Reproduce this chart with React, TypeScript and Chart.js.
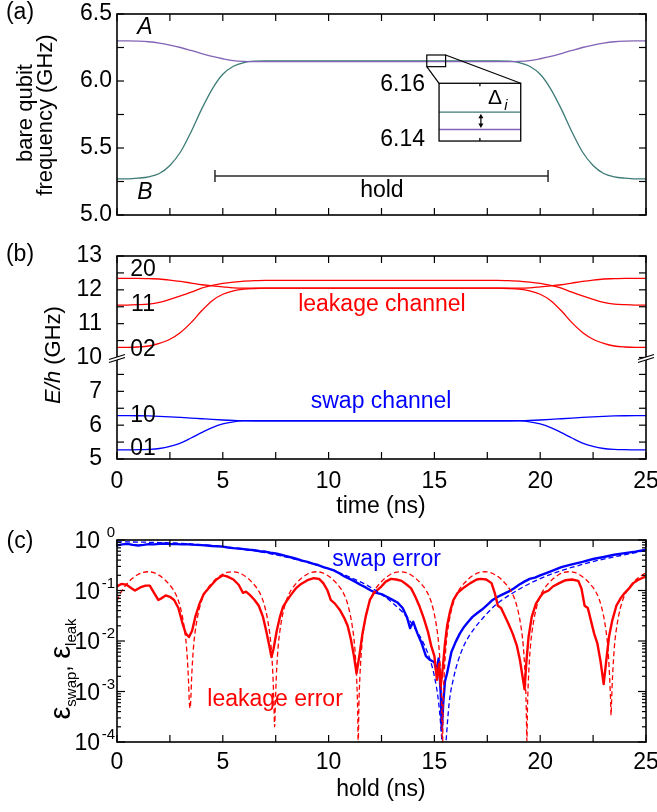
import React, { useEffect, useRef } from "react";
import { Chart, registerables } from "chart.js";

Chart.register(...registerables);

const FONT = '"Liberation Sans", Arial, Helvetica, sans-serif';
const FS = 23;

// ---------- panels (a) and (b): pulse time axis (ns) ----------
const TIME_NS = [0, 0.5, 1, 1.5, 2, 2.5, 3, 3.5, 4, 4.5, 5, 5.5, 6, 6.5, 7, 12.5, 18, 18.5, 19, 19.5, 20, 20.5, 21, 21.5, 22, 22.5, 23, 23.5, 24, 24.5, 25];

// (a) bare qubit frequencies (GHz)
const QUBIT_A_GHZ = [6.300, 6.300, 6.298, 6.293, 6.283, 6.268, 6.250, 6.228, 6.205, 6.183, 6.166, 6.152, 6.146, 6.144, 6.144, 6.144, 6.144, 6.144, 6.146, 6.152, 6.166, 6.183, 6.205, 6.228, 6.250, 6.268, 6.283, 6.293, 6.298, 6.300, 6.300];
const QUBIT_B_GHZ = [5.270, 5.270, 5.275, 5.285, 5.310, 5.370, 5.470, 5.620, 5.790, 5.940, 6.050, 6.110, 6.138, 6.148, 6.150, 6.150, 6.150, 6.148, 6.138, 6.110, 6.050, 5.940, 5.790, 5.620, 5.470, 5.370, 5.310, 5.285, 5.275, 5.270, 5.270];

// (b) two-qubit energy levels E/h (GHz)
const LEVEL_10 = [6.28, 6.28, 6.278, 6.272, 6.262, 6.248, 6.230, 6.210, 6.190, 6.170, 6.153, 6.140, 6.133, 6.130, 6.130, 6.130, 6.130, 6.130, 6.133, 6.140, 6.153, 6.170, 6.190, 6.210, 6.230, 6.248, 6.262, 6.272, 6.278, 6.28, 6.28];
const LEVEL_01 = [5.27, 5.27, 5.275, 5.285, 5.31, 5.37, 5.47, 5.62, 5.78, 5.93, 6.04, 6.10, 6.125, 6.130, 6.130, 6.130, 6.130, 6.130, 6.125, 6.10, 6.04, 5.93, 5.78, 5.62, 5.47, 5.37, 5.31, 5.285, 5.275, 5.27, 5.27];
const LEVEL_02 = [10.30, 10.30, 10.31, 10.34, 10.42, 10.54, 10.74, 11.03, 11.38, 11.68, 11.87, 11.97, 12.02, 12.04, 12.05, 12.05, 12.05, 12.04, 12.02, 11.97, 11.87, 11.68, 11.38, 11.03, 10.74, 10.54, 10.42, 10.34, 10.31, 10.30, 10.30];
const LEVEL_11 = [11.55, 11.55, 11.56, 11.58, 11.63, 11.72, 11.82, 11.93, 12.05, 12.13, 12.19, 12.23, 12.26, 12.27, 12.28, 12.28, 12.28, 12.27, 12.26, 12.23, 12.19, 12.13, 12.05, 11.93, 11.82, 11.72, 11.63, 11.58, 11.56, 11.55, 11.55];
const LEVEL_20 = [12.34, 12.34, 12.34, 12.33, 12.32, 12.29, 12.25, 12.20, 12.15, 12.12, 12.09, 12.06, 12.05, 12.05, 12.05, 12.05, 12.05, 12.05, 12.05, 12.06, 12.09, 12.12, 12.15, 12.20, 12.25, 12.29, 12.32, 12.33, 12.34, 12.34, 12.34];

// ---------- panel (c): errors vs hold time, [hold (ns), error] ----------
const SWAP_MEASURED = [
  [0, 0.78], [0.25, 0.82], [0.5, 0.84], [0.75, 0.80], [1, 0.78], [1.25, 0.80], [1.5, 0.83], [1.75, 0.82], [2, 0.84], [2.25, 0.85],
  [2.5, 0.83], [2.75, 0.84], [3, 0.82], [3.25, 0.83], [3.5, 0.81], [3.75, 0.80], [4, 0.79], [4.25, 0.78], [4.5, 0.76], [4.75, 0.75],
  [5, 0.74], [5.25, 0.71], [5.5, 0.69], [5.75, 0.68], [6, 0.66], [6.25, 0.64], [6.5, 0.63], [6.75, 0.60], [7, 0.59], [7.25, 0.56],
  [7.5, 0.54], [7.75, 0.51], [8, 0.48], [8.25, 0.45], [8.5, 0.42], [8.75, 0.39], [9, 0.37], [9.25, 0.34], [9.5, 0.32], [9.75, 0.29],
  [10, 0.27], [10.25, 0.25], [10.5, 0.22], [10.75, 0.19], [11, 0.17], [11.25, 0.15], [11.5, 0.13], [11.75, 0.115], [12, 0.10], [12.25, 0.09],
  [12.5, 0.085], [12.75, 0.075], [13, 0.066], [13.25, 0.058], [13.5, 0.045], [13.7, 0.030], [13.85, 0.018], [14, 0.024], [14.2, 0.014], [14.4, 0.009],
  [14.6, 0.0050], [14.8, 0.0042], [15, 0.0038], [15.1, 0.0025], [15.2, 0.0045], [15.3, 0.0009], [15.35, 0.00017], [15.42, 0.0006], [15.5, 0.0016], [15.6, 0.0023],
  [15.8, 0.0060], [16, 0.0095], [16.2, 0.014], [16.4, 0.019], [16.6, 0.024], [16.8, 0.030], [17, 0.035], [17.25, 0.042], [17.5, 0.052], [17.75, 0.065],
  [18, 0.075], [18.25, 0.085], [18.5, 0.095], [18.75, 0.11], [19, 0.13], [19.25, 0.15], [19.5, 0.17], [19.75, 0.18], [20, 0.20], [20.5, 0.24],
  [21, 0.29], [21.5, 0.33], [22, 0.37], [22.5, 0.42], [23, 0.46], [23.5, 0.51], [24, 0.55], [24.5, 0.59], [25, 0.64],
];
const SWAP_THEORY = [
  [0, 0.92], [1, 0.91], [2, 0.89], [3, 0.86], [4, 0.81], [5, 0.74], [6, 0.65], [7, 0.56], [8, 0.46], [9, 0.36],
  [10, 0.27], [11, 0.185], [12, 0.115], [13, 0.058], [13.5, 0.037], [14, 0.020], [14.5, 0.0088], [14.8, 0.0042], [15, 0.002], [15.2, 0.0006],
  [15.35, 0.00011], [15.45, 0.00002], [15.55, 0.0001], [15.7, 0.0006], [15.9, 0.0018], [16.1, 0.0038], [16.4, 0.0082], [16.9, 0.018], [17.4, 0.032], [17.9, 0.052],
  [18.9, 0.10], [19.9, 0.165], [20.9, 0.24], [21.9, 0.32], [22.9, 0.41], [23.9, 0.50], [25, 0.62],
];
const LEAK_MEASURED = [
  [0, 0.12], [0.2, 0.135], [0.45, 0.13], [0.7, 0.11], [0.85, 0.10], [1.1, 0.115], [1.35, 0.125], [1.55, 0.125], [1.75, 0.09], [1.95, 0.065],
  [2.1, 0.07], [2.3, 0.08], [2.5, 0.075], [2.7, 0.065], [2.9, 0.045], [3.1, 0.022], [3.25, 0.014], [3.4, 0.012], [3.55, 0.016], [3.7, 0.03],
  [3.9, 0.055], [4.1, 0.085], [4.4, 0.12], [4.7, 0.165], [5.0, 0.2], [5.2, 0.19], [5.5, 0.165], [5.75, 0.13], [5.95, 0.09], [6.1, 0.095],
  [6.3, 0.08], [6.5, 0.065], [6.7, 0.05], [6.9, 0.03], [7.05, 0.016], [7.2, 0.008], [7.3, 0.0048], [7.4, 0.007], [7.55, 0.016], [7.7, 0.03],
  [7.85, 0.048], [8.0, 0.06], [8.2, 0.08], [8.45, 0.11], [8.7, 0.135], [9.0, 0.16], [9.3, 0.175], [9.55, 0.17], [9.75, 0.14], [9.95, 0.10],
  [10.1, 0.065], [10.3, 0.055], [10.55, 0.04], [10.75, 0.028], [10.9, 0.02], [11.05, 0.011], [11.2, 0.005], [11.32, 0.0023], [11.45, 0.005], [11.6, 0.014],
  [11.75, 0.03], [11.95, 0.065], [12.15, 0.09], [12.45, 0.115], [12.7, 0.15], [12.95, 0.17], [13.2, 0.165], [13.45, 0.155], [13.7, 0.13], [13.9, 0.11],
  [14.1, 0.075], [14.3, 0.048], [14.5, 0.028], [14.7, 0.015], [14.85, 0.008], [15.0, 0.005], [15.12, 0.0017], [15.22, 0.0035], [15.3, 0.0013], [15.4, 0.003],
  [15.5, 0.009], [15.6, 0.02], [15.75, 0.04], [15.9, 0.065], [16.1, 0.09], [16.4, 0.115], [16.7, 0.14], [17.0, 0.165], [17.2, 0.17], [17.45, 0.165],
  [17.7, 0.14], [17.85, 0.09], [18.0, 0.05], [18.15, 0.045], [18.3, 0.033], [18.5, 0.022], [18.7, 0.014], [18.9, 0.008], [19.05, 0.004], [19.2, 0.0016],
  [19.26, 0.0011], [19.35, 0.004], [19.45, 0.012], [19.6, 0.03], [19.8, 0.055], [20.0, 0.075], [20.15, 0.09], [20.4, 0.1], [20.6, 0.12], [20.9, 0.14],
  [21.2, 0.16], [21.5, 0.165], [21.8, 0.155], [21.95, 0.11], [22.1, 0.05], [22.25, 0.045], [22.4, 0.025], [22.55, 0.014], [22.7, 0.009], [22.85, 0.004],
  [23.0, 0.0014], [23.12, 0.004], [23.25, 0.012], [23.4, 0.025], [23.6, 0.05], [23.8, 0.07], [24.0, 0.09], [24.2, 0.11], [24.4, 0.14], [24.6, 0.16],
  [24.8, 0.175], [25.0, 0.19],
];
const LEAK_THEORY = [
  [0, 0.062], [0.2, 0.094], [0.45, 0.133], [0.7, 0.17], [0.95, 0.203], [1.2, 0.227], [1.45, 0.235], [1.7, 0.228], [1.95, 0.205], [2.2, 0.172],
  [2.45, 0.135], [2.65, 0.105], [2.85, 0.072], [3.0, 0.045], [3.15, 0.022], [3.28, 0.008], [3.37, 0.002], [3.42, 0.0006], [3.45, 0.00047], [3.48, 0.0006],
  [3.53, 0.002], [3.62, 0.008], [3.75, 0.022], [3.9, 0.045], [4.05, 0.072], [4.25, 0.105], [4.45, 0.135], [4.7, 0.172], [4.95, 0.205], [5.2, 0.228],
  [5.45, 0.235], [5.7, 0.228], [5.95, 0.205], [6.2, 0.172], [6.45, 0.135], [6.65, 0.105], [6.85, 0.072], [7.0, 0.045], [7.15, 0.022], [7.28, 0.008],
  [7.37, 0.002], [7.42, 0.0005], [7.45, 0.0002], [7.48, 0.0005], [7.53, 0.002], [7.62, 0.008], [7.75, 0.022], [7.9, 0.045], [8.05, 0.072], [8.25, 0.105],
  [8.45, 0.135], [8.7, 0.172], [8.95, 0.205], [9.2, 0.228], [9.43, 0.235], [9.65, 0.228], [9.9, 0.205], [10.15, 0.172], [10.4, 0.135], [10.6, 0.105],
  [10.8, 0.072], [10.95, 0.045], [11.1, 0.022], [11.23, 0.008], [11.32, 0.002], [11.37, 0.0005], [11.4, 0.00009], [11.43, 0.0005], [11.48, 0.002], [11.57, 0.008],
  [11.7, 0.022], [11.85, 0.045], [12.0, 0.072], [12.2, 0.105], [12.4, 0.135], [12.65, 0.172], [12.9, 0.205], [13.15, 0.228], [13.4, 0.235], [13.63, 0.228],
  [13.88, 0.205], [14.13, 0.172], [14.38, 0.135], [14.58, 0.105], [14.78, 0.072], [14.93, 0.045], [15.08, 0.022], [15.21, 0.008], [15.3, 0.002], [15.35, 0.0005],
  [15.38, 0.00005], [15.41, 0.0005], [15.46, 0.002], [15.55, 0.008], [15.68, 0.022], [15.83, 0.045], [15.98, 0.072], [16.18, 0.105], [16.38, 0.135], [16.63, 0.172],
  [16.88, 0.205], [17.13, 0.228], [17.37, 0.235], [17.62, 0.228], [17.87, 0.205], [18.12, 0.172], [18.37, 0.135], [18.57, 0.105], [18.77, 0.072], [18.92, 0.045],
  [19.07, 0.022], [19.2, 0.008], [19.29, 0.002], [19.34, 0.0005], [19.37, 0.000105], [19.4, 0.0005], [19.45, 0.002], [19.54, 0.008], [19.67, 0.022], [19.82, 0.045],
  [19.97, 0.072], [20.17, 0.105], [20.37, 0.135], [20.62, 0.172], [20.87, 0.205], [21.12, 0.228], [21.36, 0.235], [21.61, 0.228], [21.86, 0.205], [22.11, 0.172],
  [22.36, 0.135], [22.56, 0.105], [22.76, 0.072], [22.91, 0.045], [23.06, 0.022], [23.19, 0.008], [23.28, 0.002], [23.33, 0.0006], [23.35, 0.00034], [23.37, 0.0006],
  [23.42, 0.002], [23.51, 0.008], [23.64, 0.022], [23.79, 0.045], [23.94, 0.072], [24.14, 0.105], [24.34, 0.135], [24.59, 0.172], [24.84, 0.205], [25, 0.22],
];

// ---------- ticks ----------
const X_TICKS = [0, 2.5, 5, 7.5, 10, 12.5, 15, 17.5, 20, 22.5, 25];
const A_Y_TICKS = [5, 5.25, 5.5, 5.75, 6, 6.25, 6.5];
const B_Y_TICKS = [5, 5.5, 6, 6.5, 7, 7.5, 8, 8.5, 9, 9.5, 10, 10.5, 11];
const B_BREAK = 8; // axis position of the broken-axis jump (7 GHz -> 10 GHz)
const B_GAP = 2; // GHz removed by the break
const C_DECADES = [-4, -3, -2, -1, 0];
const INSET_RANGE = [6.14, 6.16];

const PURPLE = "#8264b6";
const TEAL = "#3d7b76";
const RED = "#ff0000";
const BLUE = "#0000ff";

// ---------- helpers ----------
const fnt = (size: number, italic = false) => `${italic ? "italic " : ""}${size}px ${FONT}`;
const xy = (ts: number[], vs: number[], shift = 0) => ts.map((t, i) => ({ x: t, y: vs[i] - shift }));
const pairs = (p: number[][]) => p.map(([x, y]) => ({ x, y }));

function seg(ctx: CanvasRenderingContext2D, x1: number, y1: number, x2: number, y2: number) {
  ctx.beginPath();
  ctx.moveTo(x1, y1);
  ctx.lineTo(x2, y2);
  ctx.stroke();
}
function label(ctx: CanvasRenderingContext2D, s: string, x: number, y: number, size = FS, color = "#000", align: CanvasTextAlign = "center", italic = false) {
  ctx.font = fnt(size, italic);
  ctx.fillStyle = color;
  ctx.textAlign = align;
  ctx.textBaseline = "middle";
  ctx.fillText(s, x, y);
}
function rotLabel(ctx: CanvasRenderingContext2D, s: string, x: number, y: number, size = 22) {
  ctx.save();
  ctx.translate(x, y);
  ctx.rotate(-Math.PI / 2);
  label(ctx, s, 0, 0, size);
  ctx.restore();
}
function runs(ctx: CanvasRenderingContext2D, parts: { s: string; font: string; dy?: number }[], x: number, y: number) {
  ctx.save();
  ctx.translate(x, y);
  ctx.rotate(-Math.PI / 2);
  ctx.textBaseline = "alphabetic";
  ctx.textAlign = "left";
  ctx.fillStyle = "#000";
  let total = 0;
  const ws = parts.map((p) => {
    ctx.font = p.font;
    const w = ctx.measureText(p.s).width;
    total += w;
    return w;
  });
  let cx = -total / 2;
  parts.forEach((p, i) => {
    ctx.font = p.font;
    ctx.fillText(p.s, cx, p.dy || 0);
    cx += ws[i];
  });
  ctx.restore();
}
function frame(ctx: CanvasRenderingContext2D, ca: any, xPx: number[], yPx: number[][]) {
  ctx.save();
  ctx.strokeStyle = "#000";
  ctx.lineWidth = 1.2;
  for (const px of xPx) {
    seg(ctx, px, ca.bottom, px, ca.bottom - 7);
    seg(ctx, px, ca.top, px, ca.top + 7);
  }
  for (const [py, len] of yPx) {
    seg(ctx, ca.left, py, ca.left + len, py);
    seg(ctx, ca.right, py, ca.right - len, py);
  }
  ctx.lineWidth = 1.6;
  ctx.strokeRect(ca.left, ca.top, ca.right - ca.left, ca.bottom - ca.top);
  ctx.restore();
}

function baseOptions(pad: any, scales: any) {
  return {
    animation: false,
    responsive: false,
    maintainAspectRatio: false,
    devicePixelRatio: 1,
    events: [],
    layout: { padding: pad },
    plugins: { legend: { display: false }, tooltip: { enabled: false } },
    elements: { point: { radius: 0 } },
    scales,
  };
}
const xAxis = (show: boolean, height: number, pad: number) =>
  show
    ? {
        type: "linear",
        min: 0,
        max: 25,
        grid: { display: false, drawTicks: false },
        border: { display: false },
        ticks: { stepSize: 5, color: "#000", padding: pad, font: { family: FONT, size: FS } },
        afterFit: (s: any) => {
          s.height = height;
          s.paddingLeft = 0;
          s.paddingRight = 0;
        },
      }
    : { type: "linear", min: 0, max: 25, display: false };

// ---------- panel (a) ----------
const panelA = {
  id: "panelA",
  afterDraw(chart: any) {
    const { ctx, chartArea: ca } = chart;
    const X = (v: number) => chart.scales.x.getPixelForValue(v);
    const Y = (v: number) => chart.scales.y.getPixelForValue(v);
    frame(ctx, ca, X_TICKS.map(X), A_Y_TICKS.map((v) => [Y(v), 7]));
    ctx.save();
    label(ctx, "(a)", 20, 13);
    rotLabel(ctx, "bare qubit", 26, 113);
    rotLabel(ctx, "frequency (GHz)", 46, 115);
    label(ctx, "A", X(1.32), Y(6.396), FS, "#000", "center", true);
    label(ctx, "B", X(1.32), Y(5.164), FS, "#000", "center", true);

    // hold bar
    ctx.strokeStyle = "#2a2a2a";
    ctx.lineWidth = 1.5;
    const hy = Y(5.291), h0 = X(4.63), h1 = X(20.37);
    seg(ctx, h0, hy, h1, hy);
    seg(ctx, h0, hy - 6, h0, hy + 6);
    seg(ctx, h1, hy - 6, h1, hy + 6);
    label(ctx, "hold", X(12.52), Y(5.179));

    // zoom inset
    ctx.strokeStyle = "#000";
    ctx.lineWidth = 1.2;
    const sx0 = X(14.64), sx1 = X(15.53), sy0 = Y(6.194), sy1 = Y(6.107);
    const bx0 = X(15.22), bx1 = X(19.08), by0 = Y(5.983), by1 = Y(5.552);
    ctx.strokeRect(sx0, sy0, sx1 - sx0, sy1 - sy0);
    seg(ctx, sx0, sy1, bx0, by0);
    seg(ctx, sx1, sy0, bx1, by0);
    ctx.fillStyle = "#fff";
    ctx.fillRect(bx0, by0, bx1 - bx0, by1 - by0);
    const [lo, hi] = INSET_RANGE;
    const iy = (v: number) => by1 - ((v - lo) / (hi - lo)) * (by1 - by0);
    const yB = iy(QUBIT_B_GHZ[15]);
    const yA = iy(QUBIT_A_GHZ[15]);
    ctx.lineWidth = 1.3;
    ctx.strokeStyle = TEAL;
    seg(ctx, bx0, yB, bx1, yB);
    ctx.strokeStyle = PURPLE;
    seg(ctx, bx0, yA, bx1, yA);
    ctx.strokeStyle = "#000";
    ctx.lineWidth = 1.3;
    ctx.strokeRect(bx0, by0, bx1 - bx0, by1 - by0);
    const mx = (bx0 + bx1) / 2;
    seg(ctx, mx, by0, mx, by0 + 3);
    seg(ctx, mx, by1, mx, by1 - 3);
    // double arrow
    const ax = mx + 1, a0 = yB + 1.5, a1 = yA - 1.5;
    ctx.lineWidth = 1.2;
    seg(ctx, ax, a0 + 3, ax, a1 - 3);
    ctx.fillStyle = "#000";
    ctx.beginPath();
    ctx.moveTo(ax, a0); ctx.lineTo(ax - 2.5, a0 + 4.5); ctx.lineTo(ax + 2.5, a0 + 4.5); ctx.closePath(); ctx.fill();
    ctx.beginPath();
    ctx.moveTo(ax, a1); ctx.lineTo(ax - 2.5, a1 - 4.5); ctx.lineTo(ax + 2.5, a1 - 4.5); ctx.closePath(); ctx.fill();
    label(ctx, "Δ", mx + 15, by0 + 15, 21);
    label(ctx, "i", mx + 26, by0 + 23, 15, "#000", "center", true);
    label(ctx, "6.16", bx0 - 14, by0 + 1, FS, "#000", "right");
    label(ctx, "6.14", bx0 - 14, by1 - 1, FS, "#000", "right");
    ctx.restore();
  },
};

// ---------- panel (b) ----------
const panelB = {
  id: "panelB",
  afterDraw(chart: any) {
    const { ctx, chartArea: ca } = chart;
    const X = (v: number) => chart.scales.x.getPixelForValue(v);
    const Y = (v: number) => chart.scales.y.getPixelForValue(v);
    frame(ctx, ca, X_TICKS.map(X), B_Y_TICKS.map((v) => [Y(v), 7]));
    ctx.save();
    // axis break marks
    const py = Y(B_BREAK);
    for (const cx of [ca.left, ca.right]) {
      ctx.fillStyle = "#fff";
      ctx.beginPath();
      ctx.moveTo(cx - 8, py + 2); ctx.lineTo(cx + 8, py - 3); ctx.lineTo(cx + 8, py); ctx.lineTo(cx - 8, py + 5);
      ctx.closePath();
      ctx.fill();
      ctx.strokeStyle = "#000";
      ctx.lineWidth = 1.3;
      seg(ctx, cx - 8, py + 2, cx + 8, py - 3);
      seg(ctx, cx - 8, py + 5, cx + 8, py);
    }
    label(ctx, "(b)", 20, 25);
    runs(ctx, [
      { s: "E/h", font: fnt(22, true) },
      { s: " (GHz)", font: fnt(22) },
    ], 60, 125);
    label(ctx, "time (ns)", 381, 277);
    label(ctx, "20", X(1.23), Y(12.587 - B_GAP));
    label(ctx, "11", X(1.23), Y(11.552 - B_GAP));
    label(ctx, "02", X(1.23), Y(10.222 - B_GAP));
    label(ctx, "10", X(1.23), Y(6.271));
    label(ctx, "01", X(1.23), Y(5.296));
    label(ctx, "leakage channel", X(12.52), Y(11.552 - B_GAP), FS, RED);
    label(ctx, "swap channel", X(12.48), Y(6.685), FS, BLUE);
    ctx.restore();
  },
};

// ---------- panel (c) ----------
const panelC = {
  id: "panelC",
  afterDraw(chart: any) {
    const { ctx, chartArea: ca } = chart;
    const X = (v: number) => chart.scales.x.getPixelForValue(v);
    const Y = (v: number) => chart.scales.y.getPixelForValue(v);
    const yt: number[][] = [];
    for (const d of C_DECADES) {
      yt.push([Y(Math.pow(10, d)), 8]);
      if (d < 0) for (let k = 2; k <= 9; k++) yt.push([Y(k * Math.pow(10, d)), 4]);
    }
    frame(ctx, ca, X_TICKS.map(X), yt);
    ctx.save();
    for (const d of C_DECADES) {
      const py = Y(Math.pow(10, d));
      label(ctx, "10", 100, py + 2, FS, "#000", "right");
      label(ctx, String(d), 115, py - 7, 15, "#000", "right");
    }
    label(ctx, "(c)", 20, 22);
    runs(ctx, [
      { s: "ε", font: fnt(29) },
      { s: "swap", font: fnt(15), dy: 6 },
      { s: ", ", font: fnt(23) },
      { s: "ε", font: fnt(29) },
      { s: "leak", font: fnt(15), dy: 6 },
    ], 70, 149);
    label(ctx, "hold (ns)", 381, 270);
    label(ctx, "swap error", X(12.74), Y(0.40), FS, BLUE);
    label(ctx, "leakage error", X(7.47), Y(6.8e-4), FS, RED);
    ctx.restore();
  },
};

function makeA(canvas: HTMLCanvasElement) {
  const line = (data: any, color: string) => ({ data, borderColor: color, borderWidth: 1.3, cubicInterpolationMode: "monotone", fill: false });
  return new Chart(canvas, {
    type: "line",
    data: { datasets: [line(xy(TIME_NS, QUBIT_A_GHZ), PURPLE), line(xy(TIME_NS, QUBIT_B_GHZ), TEAL)] },
    options: baseOptions({ top: 14, right: 11, bottom: 15, left: 0 }, {
      x: xAxis(false, 0, 0),
      y: {
        type: "linear",
        min: 5,
        max: 6.5,
        grid: { display: false, drawTicks: false },
        border: { display: false },
        ticks: { stepSize: 0.5, color: "#000", padding: 5, font: { family: FONT, size: FS }, callback: (v: any) => Number(v).toFixed(1) },
        afterFit: (s: any) => { s.width = 117; s.paddingTop = 0; s.paddingBottom = 0; },
      },
    }) as any,
    plugins: [panelA],
  } as any);
}

function makeB(canvas: HTMLCanvasElement) {
  const line = (data: any, color: string) => ({ data, borderColor: color, borderWidth: 1.3, cubicInterpolationMode: "monotone", fill: false });
  return new Chart(canvas, {
    type: "line",
    data: {
      datasets: [
        line(xy(TIME_NS, LEVEL_20, B_GAP), RED),
        line(xy(TIME_NS, LEVEL_11, B_GAP), RED),
        line(xy(TIME_NS, LEVEL_02, B_GAP), RED),
        line(xy(TIME_NS, LEVEL_10), BLUE),
        line(xy(TIME_NS, LEVEL_01), BLUE),
      ],
    },
    options: baseOptions({ top: 26, right: 11, bottom: 0, left: 0 }, {
      x: xAxis(true, 61, 9),
      y: {
        type: "linear",
        min: 5,
        max: 11,
        grid: { display: false, drawTicks: false },
        border: { display: false },
        ticks: {
          stepSize: 1,
          color: "#000",
          padding: 15,
          font: { family: FONT, size: FS },
          callback: (v: any) => String(v >= B_BREAK ? v + B_GAP : v),
        },
        afterFit: (s: any) => { s.width = 117; s.paddingTop = 0; s.paddingBottom = 0; },
      },
    }) as any,
    plugins: [panelB],
  } as any);
}

function makeC(canvas: HTMLCanvasElement) {
  return new Chart(canvas, {
    type: "line",
    data: {
      datasets: [
        { data: pairs(LEAK_THEORY), borderColor: RED, borderWidth: 1.3, borderDash: [5, 3], cubicInterpolationMode: "monotone", fill: false },
        { data: pairs(SWAP_THEORY), borderColor: BLUE, borderWidth: 1.3, borderDash: [5, 3], cubicInterpolationMode: "monotone", fill: false },
        { data: pairs(LEAK_MEASURED), borderColor: RED, borderWidth: 2.4, tension: 0, borderJoinStyle: "round", fill: false },
        { data: pairs(SWAP_MEASURED), borderColor: BLUE, borderWidth: 2.4, tension: 0, borderJoinStyle: "round", fill: false },
      ],
    },
    options: baseOptions({ top: 20, right: 11, bottom: 0, left: 0 }, {
      x: xAxis(true, 70, 7),
      y: {
        type: "logarithmic",
        min: 1e-4,
        max: 1,
        grid: { display: false, drawTicks: false },
        border: { display: false },
        ticks: { display: false },
        afterFit: (s: any) => { s.width = 117; s.paddingTop = 0; s.paddingBottom = 0; },
      },
    }) as any,
    plugins: [panelC],
  } as any);
}

export default function App() {
  const ra = useRef<HTMLCanvasElement>(null);
  const rb = useRef<HTMLCanvasElement>(null);
  const rc = useRef<HTMLCanvasElement>(null);
  useEffect(() => {
    const charts = [makeA(ra.current!), makeB(rb.current!), makeC(rc.current!)];
    return () => charts.forEach((c) => c.destroy());
  }, []);
  const cs = (top: number): React.CSSProperties => ({ position: "absolute", left: 0, top, display: "block" });
  return (
    <div style={{ position: "absolute", left: 0, top: 0, width: 657, height: 812, background: "#fff", overflow: "hidden" }}>
      <canvas ref={ra} width={657} height={230} style={cs(0)} />
      <canvas ref={rb} width={657} height={290} style={cs(230)} />
      <canvas ref={rc} width={657} height={292} style={cs(520)} />
    </div>
  );
}
